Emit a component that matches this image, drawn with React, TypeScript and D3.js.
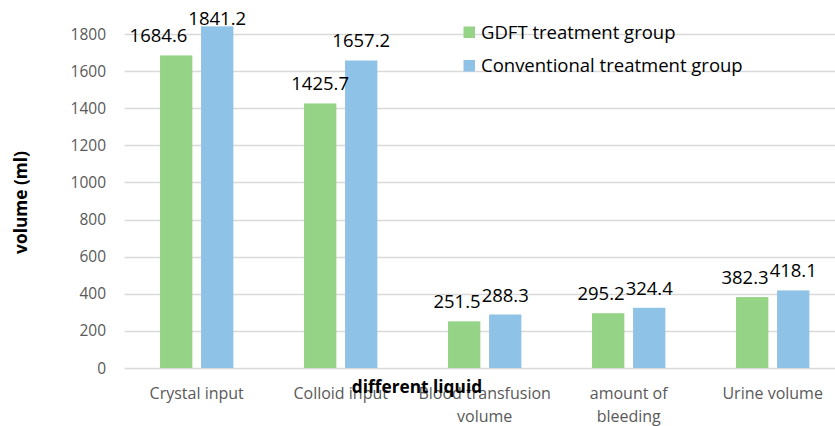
import React, { useEffect, useRef } from "react";
import * as d3 from "d3";

const categories = [
  "Crystal input",
  "Colloid input",
  "Blood transfusion volume",
  "amount of bleeding",
  "Urine volume",
];
const gdftValues = [1684.6, 1425.7, 251.5, 295.2, 382.3];
const conventionalValues = [1841.2, 1657.2, 288.3, 324.4, 418.1];
const seriesNames = ["GDFT treatment group", "Conventional treatment group"];
const seriesColors = ["#95D386", "#8EC3E7"];
const yTicks = [0, 200, 400, 600, 800, 1000, 1200, 1400, 1600, 1800];
const xTitle = "different liquid";
const yTitle = "volume (ml)";

const W = 835;
const H = 426;
const FONT = "'Open Sans', 'Noto Sans', sans-serif";

export default function App() {
  const ref = useRef<SVGSVGElement | null>(null);

  useEffect(() => {
    const svg = d3.select(ref.current);
    svg.selectAll("*").remove();

    const x = d3.scaleBand<string>().domain(categories).range([124.7, 844.7]).padding(0);
    const xi = d3
      .scaleBand<number>()
      .domain([0, 1])
      .range([0, x.bandwidth()])
      .paddingInner(0.212)
      .paddingOuter(0.861);
    const y = d3.scaleLinear().domain([0, 1800]).range([368, 34]);

    const canvas = document.createElement("canvas");
    const ctx = canvas.getContext("2d")!;

    // gridlines
    svg
      .append("g")
      .selectAll("line")
      .data(yTicks)
      .join("line")
      .attr("x1", 124.7)
      .attr("x2", 844.7)
      .attr("y1", (d) => Math.round(y(d)) + 0.5)
      .attr("y2", (d) => Math.round(y(d)) + 0.5)
      .attr("stroke", "#D9D9D9")
      .attr("stroke-width", 1.3);

    // y tick labels
    svg
      .append("g")
      .selectAll("text")
      .data(yTicks)
      .join("text")
      .attr("x", 106)
      .attr("y", (d) => y(d))
      .attr("dy", "0.36em")
      .attr("text-anchor", "end")
      .attr("font-family", FONT)
      .attr("font-size", 15.5)
      .attr("fill", "#595959")
      .text((d) => String(d));

    const series = [gdftValues, conventionalValues];

    // bars
    series.forEach((vals, si) => {
      svg
        .append("g")
        .selectAll("rect")
        .data(vals)
        .join("rect")
        .attr("x", (_d, i) => (x(categories[i]) as number) + (xi(si) as number))
        .attr("width", xi.bandwidth())
        .attr("y", (d) => y(d))
        .attr("height", (d) => y(0) - y(d))
        .attr("fill", seriesColors[si]);
    });

    // data labels with simple overlap avoidance inside each group
    const LABEL_SIZE = 18.5;
    ctx.font = `${LABEL_SIZE}px ${FONT}`;
    const labelG = svg.append("g");
    categories.forEach((c, i) => {
      const items = series.map((vals, si) => {
        const txt = vals[i].toFixed(1);
        return {
          txt,
          cx: (x(c) as number) + (xi(si) as number) + xi.bandwidth() / 2,
          by: Math.max(y(vals[i]) - 13, 25),
          w: ctx.measureText(txt).width,
        };
      });
      const [a, b] = items;
      const overlapX = a.cx + a.w / 2 - (b.cx - b.w / 2) + 1;
      const closeY = Math.abs(a.by - b.by) < 40;
      if (overlapX > 0 && closeY) a.cx -= overlapX;
      items.forEach((it) => {
        labelG
          .append("text")
          .attr("x", it.cx)
          .attr("y", it.by)
          .attr("text-anchor", "middle")
          .attr("font-family", FONT)
          .attr("font-size", LABEL_SIZE)
          .attr("fill", "#000")
          .text(it.txt);
      });
    });

    // category labels with wrapping
    ctx.font = `16px ${FONT}`;
    const maxW = 136;
    const catG = svg.append("g");
    categories.forEach((c) => {
      const words = c.split(" ");
      const lines: string[] = [];
      let cur = "";
      words.forEach((w) => {
        const test = cur ? cur + " " + w : w;
        if (ctx.measureText(test).width > maxW && cur) {
          lines.push(cur);
          cur = w;
        } else cur = test;
      });
      if (cur) lines.push(cur);
      const t = catG
        .append("text")
        .attr("text-anchor", "middle")
        .attr("font-family", FONT)
        .attr("font-size", 16)
        .attr("fill", "#595959");
      lines.forEach((l, li) => {
        t.append("tspan")
          .attr("x", (x(c) as number) + x.bandwidth() / 2)
          .attr("y", 398.5 + li * 23.5)
          .text(l);
      });
    });

    // axis titles
    svg
      .append("text")
      .attr("x", 417)
      .attr("y", 393)
      .attr("text-anchor", "middle")
      .attr("font-family", FONT)
      .attr("font-weight", "bold")
      .attr("font-size", 17.3)
      .attr("fill", "#000")
      .text(xTitle);

    svg
      .append("text")
      .attr("transform", "translate(27,202.5) rotate(-90)")
      .attr("text-anchor", "middle")
      .attr("font-family", FONT)
      .attr("font-weight", "bold")
      .attr("font-size", 17.3)
      .attr("fill", "#000")
      .text(yTitle);

    // legend
    const lg = svg.append("g");
    seriesNames.forEach((n, i) => {
      lg.append("rect")
        .attr("x", 463.5)
        .attr("y", 26.5 + i * 33.5)
        .attr("width", 11.5)
        .attr("height", 11.5)
        .attr("fill", seriesColors[i]);
      lg.append("text")
        .attr("x", 481)
        .attr("y", 38.5 + i * 33.5)
        .attr("font-family", FONT)
        .attr("font-size", 18.5)
        .attr("fill", "#000")
        .text(n);
    });
  }, []);

  return (
    <svg
      ref={ref}
      width={W}
      height={H}
      style={{ position: "absolute", left: 0, top: 0, background: "#fff" }}
    />
  );
}
